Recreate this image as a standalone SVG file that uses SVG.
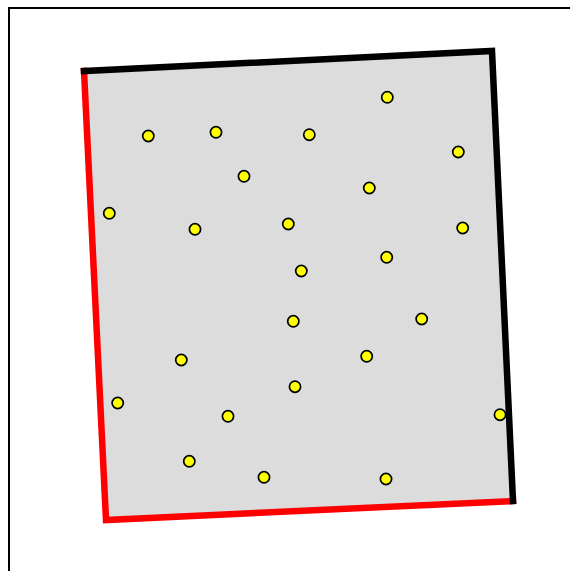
<svg xmlns="http://www.w3.org/2000/svg" width="570" height="571" viewBox="0 0 570 571">
<style>
.dot{fill:#ffff00;stroke:#000;stroke-width:1.7}
.edge{fill:none;stroke-width:6.5;stroke-linecap:square;stroke-linejoin:miter}
</style>
<rect x="0" y="0" width="570" height="571" fill="#fff"/>
<rect x="9" y="8" width="600" height="600" fill="none" stroke="#000" stroke-width="2"/>
<g id="region">
<polygon points="84,71 492,51 513,501 106,520" fill="#dcdcdc"/>
</g>
<g id="connectors">
<polyline class="edge" stroke="#ff0000" points="84,71 106,520 513,501"/>
<polyline class="edge" stroke="#000000" points="84,71 492,51 513,501"/>
</g>
<g id="points">
<circle class="dot" cx="148.3" cy="136" r="5.6"/>
<circle class="dot" cx="216" cy="132.3" r="5.6"/>
<circle class="dot" cx="309.3" cy="134.7" r="5.6"/>
<circle class="dot" cx="387.3" cy="97.3" r="5.6"/>
<circle class="dot" cx="458.3" cy="152" r="5.6"/>
<circle class="dot" cx="244" cy="176.3" r="5.6"/>
<circle class="dot" cx="369.3" cy="188" r="5.6"/>
<circle class="dot" cx="109.3" cy="213.3" r="5.6"/>
<circle class="dot" cx="195" cy="229.3" r="5.6"/>
<circle class="dot" cx="288.3" cy="224" r="5.6"/>
<circle class="dot" cx="462.7" cy="228" r="5.6"/>
<circle class="dot" cx="386.7" cy="257.3" r="5.6"/>
<circle class="dot" cx="301.3" cy="271" r="5.6"/>
<circle class="dot" cx="293.3" cy="321.3" r="5.6"/>
<circle class="dot" cx="421.7" cy="319" r="5.6"/>
<circle class="dot" cx="181.3" cy="360" r="5.6"/>
<circle class="dot" cx="366.7" cy="356.3" r="5.6"/>
<circle class="dot" cx="295" cy="386.7" r="5.6"/>
<circle class="dot" cx="117.7" cy="403" r="5.6"/>
<circle class="dot" cx="228" cy="416.3" r="5.6"/>
<circle class="dot" cx="500" cy="414.7" r="5.6"/>
<circle class="dot" cx="189.3" cy="461.3" r="5.6"/>
<circle class="dot" cx="264" cy="477.3" r="5.6"/>
<circle class="dot" cx="386" cy="479" r="5.6"/>
</g>
</svg>
